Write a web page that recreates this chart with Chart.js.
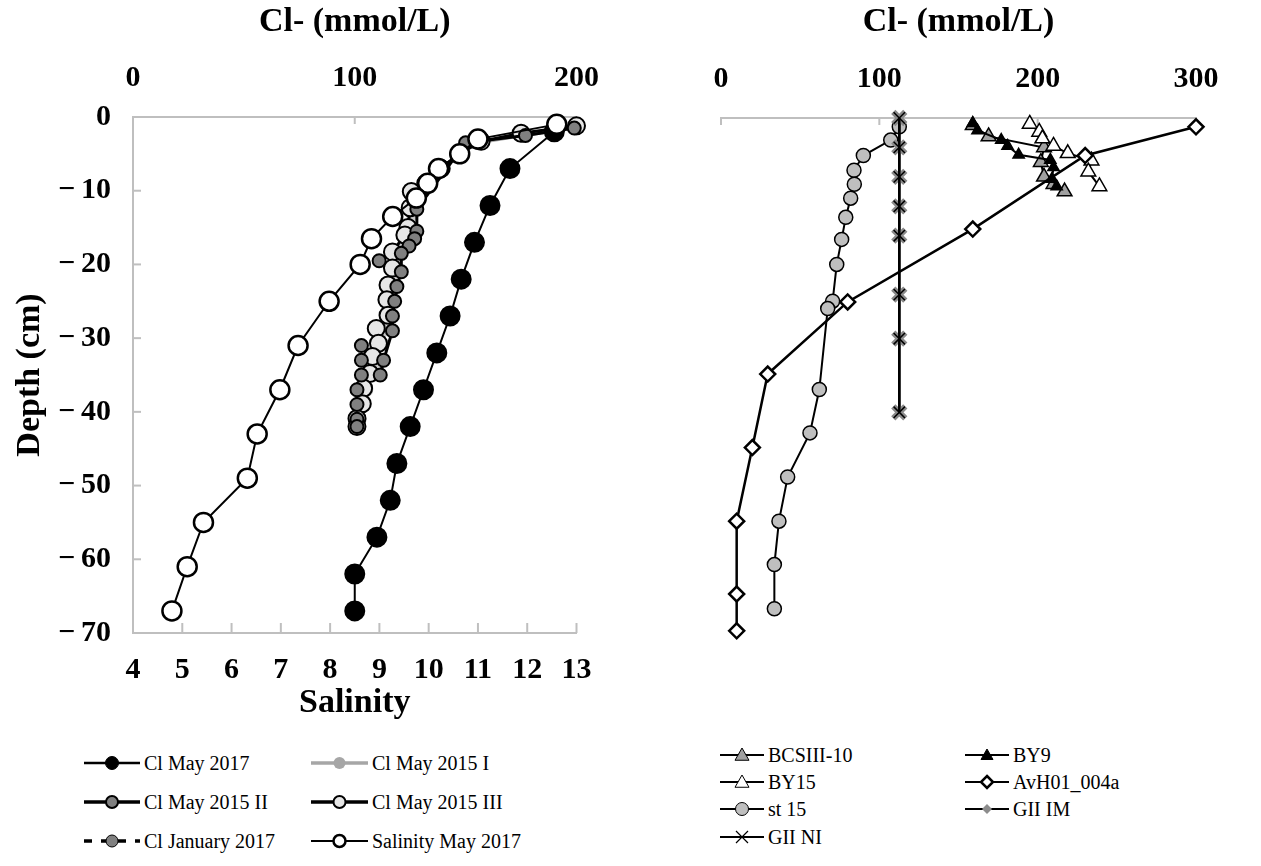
<!DOCTYPE html>
<html lang="en">
<head>
<meta charset="UTF-8">
<title>Cl- and salinity profiles</title>
<script src="https://cdn.jsdelivr.net/npm/chart.js"></script>
<style>
    body { margin: 0; background: #fff; width: 1261px; height: 866px; position: relative; overflow: hidden;
           font-family: "Liberation Serif", "Times New Roman", serif; }
    #graficoEsq { position: absolute; left: 0; top: 0; }
    #graficoDir { position: absolute; left: 620px; top: 0; }
    .item { position: absolute; display: flex; align-items: center; white-space: nowrap; font-size: 20px; color: #000; height: 24px; }
    .item svg { margin-right: 3px; }
    .aquece { position: absolute; left: -999px; top: 0; font: bold 28px "Liberation Serif"; }
</style>
</head>

<body>
    <span class="aquece">Cl- 0123456789</span>
    <canvas id="graficoEsq" width="620" height="720"></canvas>
    <canvas id="graficoDir" width="641" height="720"></canvas>
    <div id="legendas"></div>

<script>
    // ---- left panel: salinity (bottom axis) and Cl- (top axis) vs depth ----
    const salinityMin = 4, salinityMax = 13, salinityStep = 1;
    const clLeftMin = 0, clLeftMax = 200, clLeftStep = 100;
    const depthMin = -70, depthMax = 0, depthStep = 10;

    const depthClMay2017 = [-2, -7, -12, -17, -22, -27, -32, -37, -42, -47, -52, -57, -62, -67];
    const clMay2017 = [190, 170, 161, 154, 148, 143, 137, 131, 125, 119, 116, 110, 100, 100];

    const depthClMay2015I = [-1.5, -2.5, -3.5, -5, -7, -9, -11, -13, -15, -17, -19, -21, -23, -25, -27, -29, -31, -33, -35, -37, -39, -41, -42];
    const clMay2015I = [200, 176, 156, 147, 139, 133, 128, 126, 125, 123, 119, 118, 116, 115, 116, 112, 111, 110, 108, 105, 104, 102, 101];

    const depthClMay2015II = [-1.5, -2.5, -3.5, -12.5, -15.5, -16.5, -17.5, -18.5, -21, -23, -25, -27, -29, -33, -35];
    const clMay2015II = [199, 177, 150, 128, 128, 127, 124.5, 121, 121, 119, 118, 117, 117, 113, 111.5];

    const depthClMay2015III = [-1.2, -2.2, -3.3, -5, -7, -9, -10.1, -12.3, -15, -16, -18.3, -20.5, -22.8, -24.8, -26.9, -28.7, -30.7, -32.5, -34.8, -36.8, -38.9, -40.9, -42];
    const clMay2015III = [200, 175, 157, 147, 139, 132, 125.5, 125, 124, 122.6, 117, 117, 115, 114.5, 115, 109.7, 110.7, 108, 106.8, 104, 103.4, 101, 101];

    const depthClJan2017 = [-19.5, -31, -33, -35, -37, -39, -41, -42];
    const clJan2017 = [111, 103, 103, 103, 101, 101, 101, 101];

    const depthSalinityMay2017 = [-1, -3, -5, -7, -9, -11, -13.5, -16.5, -20, -25, -31, -37, -43, -49, -55, -61, -67];
    const salinityMay2017 = [12.6, 11.0, 10.63, 10.2, 9.98, 9.75, 9.27, 8.84, 8.61, 7.98, 7.35, 6.98, 6.52, 6.32, 5.43, 5.10, 4.79];

    // ---- right panel: Cl- vs depth for other cores ----
    const clRightMin = 0, clRightMax = 300, clRightStep = 100;

    const depthBCSIII10 = [-1, -2.5, -4, -6, -8, -9, -10];
    const clBCSIII10 = [159, 169, 204, 202, 204, 210, 217];

    const depthBY9 = [-0.7, -1.7, -3, -3.8, -5, -5.7, -6.7, -8.3, -9.3];
    const clBY9 = [159, 162, 177, 181, 188, 208, 210, 209, 212];

    const depthBY15 = [-0.8, -1.9, -2.8, -3.8, -4.8, -5.8, -7.3, -9.3];
    const clBY15 = [195, 201, 203, 210, 219, 234, 232, 239];

    const depthAvH01 = [-1.2, -5.1, -15.1, -25, -34.8, -44.8, -54.8, -64.7, -69.7];
    const clAvH01 = [300, 230, 159, 80, 29.5, 19.8, 9.9, 9.9, 9.9];

    const depthSt15 = [-1.2, -3, -5.1, -7.1, -9, -10.9, -13.5, -16.5, -19.9, -24.9, -25.9, -36.9, -42.8, -48.8, -54.8, -60.7, -66.7];
    const clSt15 = [112.6, 107.2, 89.9, 84, 84.2, 81.9, 78.8, 76.2, 73.1, 70.5, 67.4, 62.1, 56.2, 42.1, 36.6, 33.7, 33.7];

    const depthGII = [0, -4, -8, -12, -16, -24, -30, -40];
    const clGIIIM = [112.6, 112.6, 112.6, 112.6, 112.6, 112.6, 112.6, 112.6];
    const clGIINI = [112.6, 112.6, 112.6, 112.6, 112.6, 112.6, 112.6, 112.6];

    function pontos(xs, ys) {
        return xs.map(function (v, i) { return { x: v, y: ys[i] }; });
    }

    const corEixo = '#bfbfbf';
    const familia = "'Liberation Serif', 'Times New Roman', serif";
    const fonteTick = { family: familia, size: 30, weight: 'bold' };
    const fonteTitulo = { family: familia, size: 34, weight: 'bold', lineHeight: 1 };

    // negative numbers with a real minus sign, as in the original
    function rotulo(v) {
        return v < 0 ? '\u2212\u2009' + Math.abs(v) : String(v);
    }

    // tick marks drawn inside the plot area, like the original
    const ticksInternos = {
        id: 'ticksInternos',
        beforeDatasetsDraw(chart, args, opts) {
            const ctx = chart.ctx;
            ctx.save();
            ctx.strokeStyle = corEixo;
            ctx.lineWidth = 2;
            (opts.marcas || []).forEach(function (m) {
                const sc = chart.scales[m.id];
                sc.ticks.forEach(function (t) {
                    const p = sc.getPixelForValue(t.value);
                    ctx.beginPath();
                    if (m.lado === 'left') { ctx.moveTo(sc.right, p); ctx.lineTo(sc.right + m.len, p); }
                    if (m.lado === 'bottom') { ctx.moveTo(p, sc.top); ctx.lineTo(p, sc.top - m.len); }
                    if (m.lado === 'top') { ctx.moveTo(p, sc.bottom); ctx.lineTo(p, sc.bottom + m.len); }
                    ctx.stroke();
                });
            });
            ctx.restore();
        }
    };

    function eixo(extra) {
        return Object.assign({
            type: 'linear',
            grid: { display: false, drawTicks: false },
            border: { display: true, color: corEixo, width: 2 }
        }, extra);
    }

    function titulo(texto, pad) {
        return { display: true, text: texto, color: '#000', font: fonteTitulo, padding: pad };
    }

    const serieEsq = function (label, xs, ys, eixoX, estilo) {
        return Object.assign({
            label: label, data: pontos(xs, ys), xAxisID: eixoX, showLine: true,
            borderColor: '#000', borderWidth: 2, pointBorderColor: '#000', pointBorderWidth: 2,
            clip: false
        }, estilo);
    };

    const serieDir = function (label, xs, ys, estilo) {
        return Object.assign({
            label: label, data: pontos(xs, ys), showLine: true,
            borderColor: '#000', borderWidth: 2, pointBorderColor: '#000', pointBorderWidth: 1.5,
            clip: false
        }, estilo);
    };

    function graficoEsquerdo() {
        new Chart(document.getElementById('graficoEsq'), {
            type: 'scatter',
            data: {
                datasets: [
                    serieEsq('Salinity May 2017', salinityMay2017, depthSalinityMay2017, 'x',
                        { order: 0, pointRadius: 9.5, pointBackgroundColor: '#fff', pointBorderWidth: 2.5 }),
                    serieEsq('Cl May 2017', clMay2017, depthClMay2017, 'x2',
                        { order: 1, pointRadius: 9.5, pointBackgroundColor: '#000' }),
                    serieEsq('Cl January 2017', clJan2017, depthClJan2017, 'x2',
                        { order: 2, showLine: false, borderDash: [8, 8], borderWidth: 3, pointRadius: 6.5, pointBackgroundColor: '#808080', pointBorderWidth: 2 }),
                    serieEsq('Cl May 2015 II', clMay2015II, depthClMay2015II, 'x2',
                        { order: 3, borderWidth: 3, pointRadius: 6.5, pointBackgroundColor: '#808080', pointBorderWidth: 2 }),
                    serieEsq('Cl May 2015 III', clMay2015III, depthClMay2015III, 'x2',
                        { order: 4, borderWidth: 3, pointRadius: 8.5, pointBackgroundColor: '#e6e6e6', pointBorderWidth: 2 }),
                    serieEsq('Cl May 2015 I', clMay2015I, depthClMay2015I, 'x2',
                        { order: 5, borderColor: '#a6a6a6', borderWidth: 3, pointRadius: 7.5, pointBackgroundColor: '#c8c8c8', pointBorderColor: '#c8c8c8', pointBorderWidth: 0 })
                ]
            },
            options: {
                responsive: false,
                animation: false,
                devicePixelRatio: 1,
                layout: { padding: { left: 0, top: 0, right: 35, bottom: 0 } },
                plugins: {
                    legend: { display: false },
                    tooltip: { enabled: false },
                    ticksInternos: { marcas: [{ id: 'y', lado: 'left', len: 8 }, { id: 'x', lado: 'bottom', len: 10 }, { id: 'x2', lado: 'top', len: 7 }] }
                },
                scales: {
                    x: eixo({
                        position: 'bottom', min: salinityMin, max: salinityMax,
                        ticks: { stepSize: salinityStep, padding: 19, color: '#000', font: fonteTick },
                        title: titulo('Salinity', { top: 0, bottom: 0 }),
                        afterFit: function (s) { s.height = 87; }
                    }),
                    x2: eixo({
                        position: 'top', min: clLeftMin, max: clLeftMax,
                        ticks: { stepSize: clLeftStep, padding: 21, color: '#000', font: fonteTick },
                        title: titulo('Cl- (mmol/L)', { top: 5, bottom: 0 }),
                        afterFit: function (s) { s.height = 117; }
                    }),
                    y: eixo({
                        position: 'left', min: depthMin, max: depthMax,
                        ticks: { stepSize: depthStep, padding: 22, color: '#000', font: fonteTick, callback: rotulo },
                        title: titulo('Depth (cm)', { top: 13, bottom: 0 }),
                        afterFit: function (s) { s.width = 133; }
                    })
                }
            },
            plugins: [ticksInternos]
        });
    }

    function graficoDireito() {
        new Chart(document.getElementById('graficoDir'), {
            type: 'scatter',
            data: {
                datasets: [
                    serieDir('GII NI', clGIINI, depthGII,
                        { order: 0, borderWidth: 2.5, pointStyle: 'crossRot', pointRadius: 8, pointBorderWidth: 1.5 }),
                    serieDir('GII IM', clGIIIM, depthGII,
                        { order: 1, borderWidth: 2.5, pointStyle: 'crossRot', pointRadius: 8.5, pointBorderColor: '#8a8a8a', pointBorderWidth: 6 }),
                    serieDir('st 15', clSt15, depthSt15,
                        { order: 2, pointRadius: 7, pointBackgroundColor: '#bfbfbf' }),
                    serieDir('AvH01_004a', clAvH01, depthAvH01,
                        { order: 3, borderWidth: 2.5, pointStyle: 'rectRot', pointRadius: 7.5, pointBackgroundColor: '#fff', pointBorderWidth: 2.5 }),
                    serieDir('BY15', clBY15, depthBY15,
                        { order: 4, pointStyle: 'triangle', pointRadius: 8.5, pointBackgroundColor: '#fff' }),
                    serieDir('BY9', clBY9, depthBY9,
                        { order: 5, pointStyle: 'triangle', pointRadius: 6.5, pointBackgroundColor: '#000' }),
                    serieDir('BCSIII-10', clBCSIII10, depthBCSIII10,
                        { order: 6, pointStyle: 'triangle', pointRadius: 8.5, pointBackgroundColor: '#a0a0a0' })
                ]
            },
            options: {
                responsive: false,
                animation: false,
                devicePixelRatio: 1,
                layout: { padding: { left: 101, top: 0, right: 65, bottom: 87 } },
                plugins: {
                    legend: { display: false },
                    tooltip: { enabled: false },
                    ticksInternos: { marcas: [{ id: 'x', lado: 'top', len: 7 }] }
                },
                scales: {
                    x: eixo({
                        position: 'top', min: clRightMin, max: clRightMax,
                        ticks: { stepSize: clRightStep, padding: 21, color: '#000', font: fonteTick },
                        title: titulo('Cl- (mmol/L)', { top: 5, bottom: 0 }),
                        afterFit: function (s) { s.height = 118; }
                    }),
                    y: { type: 'linear', display: false, min: depthMin, max: depthMax }
                }
            },
            plugins: [ticksInternos]
        });
    }

    // ---- legends (HTML, styled like the original) ----
    function marcador(m, cx, cy) {
        if (m.forma === 'circulo') {
            return '<circle cx="' + cx + '" cy="' + cy + '" r="' + m.r + '" fill="' + m.fill + '" stroke="' + m.stroke + '" stroke-width="' + m.sw + '"/>';
        }
        if (m.forma === 'triangulo') {
            const r = m.r;
            return '<polygon points="' + cx + ',' + (cy - r) + ' ' + (cx + r) + ',' + (cy + r * 0.75) + ' ' + (cx - r) + ',' + (cy + r * 0.75) + '" fill="' + m.fill + '" stroke="' + m.stroke + '" stroke-width="' + m.sw + '"/>';
        }
        if (m.forma === 'losango') {
            const r = m.r;
            return '<polygon points="' + cx + ',' + (cy - r) + ' ' + (cx + r) + ',' + cy + ' ' + cx + ',' + (cy + r) + ' ' + (cx - r) + ',' + cy + '" fill="' + m.fill + '" stroke="' + m.stroke + '" stroke-width="' + m.sw + '"/>';
        }
        if (m.forma === 'xis') {
            const r = m.r;
            return '<path d="M' + (cx - r) + ' ' + (cy - r) + 'L' + (cx + r) + ' ' + (cy + r) + 'M' + (cx - r) + ' ' + (cy + r) + 'L' + (cx + r) + ' ' + (cy - r) + '" stroke="' + m.stroke + '" stroke-width="' + m.sw + '"/>';
        }
        return '';
    }

    function itemLegenda(it) {
        const w = it.w, h = 24, cy = 12;
        let svg = '<svg width="' + w + '" height="' + h + '">';
        svg += '<line x1="1" y1="' + cy + '" x2="' + (w - 1) + '" y2="' + cy + '" stroke="' + it.linha + '" stroke-width="' + it.lw + '"' +
            (it.dash ? ' stroke-dasharray="' + it.dash + '"' : '') + '/>';
        svg += marcador(it.m, w / 2, cy) + '</svg>';
        const div = document.createElement('div');
        div.className = 'item';
        div.style.left = it.x + 'px';
        div.style.top = (it.y - 12) + 'px';
        div.innerHTML = svg + '<span>' + it.label + '</span>';
        document.getElementById('legendas').appendChild(div);
    }

    const legendaEsq = [
        { label: 'Cl May 2017', x: 83, y: 763, w: 58, linha: '#000', lw: 2.5, m: { forma: 'circulo', r: 6.5, fill: '#000', stroke: '#000', sw: 1 } },
        { label: 'Cl May 2015 I', x: 310, y: 763, w: 59, linha: '#a6a6a6', lw: 3.5, m: { forma: 'circulo', r: 6, fill: '#a6a6a6', stroke: '#a6a6a6', sw: 0 } },
        { label: 'Cl May 2015 II', x: 83, y: 802, w: 58, linha: '#000', lw: 3.5, m: { forma: 'circulo', r: 6, fill: '#808080', stroke: '#000', sw: 2 } },
        { label: 'Cl May 2015 III', x: 310, y: 802, w: 59, linha: '#000', lw: 3.5, m: { forma: 'circulo', r: 6, fill: '#e6e6e6', stroke: '#000', sw: 2 } },
        { label: 'Cl January 2017', x: 83, y: 841, w: 58, linha: '#000', lw: 3.5, dash: '8 9', m: { forma: 'circulo', r: 6, fill: '#808080', stroke: '#000', sw: 1 } },
        { label: 'Salinity May 2017', x: 310, y: 841, w: 59, linha: '#000', lw: 2, m: { forma: 'circulo', r: 6, fill: '#fff', stroke: '#000', sw: 2.5 } }
    ];

    const legendaDir = [
        { label: 'BCSIII-10', x: 719, y: 755, w: 46, linha: '#000', lw: 2, m: { forma: 'triangulo', r: 7, fill: '#a0a0a0', stroke: '#000', sw: 1 } },
        { label: 'BY9', x: 964, y: 755, w: 46, linha: '#000', lw: 2, m: { forma: 'triangulo', r: 6, fill: '#000', stroke: '#000', sw: 1 } },
        { label: 'BY15', x: 719, y: 782, w: 46, linha: '#000', lw: 2, m: { forma: 'triangulo', r: 7, fill: '#fff', stroke: '#000', sw: 1 } },
        { label: 'AvH01_004a', x: 964, y: 782, w: 46, linha: '#000', lw: 2, m: { forma: 'losango', r: 6, fill: '#fff', stroke: '#000', sw: 2.5 } },
        { label: 'st 15', x: 719, y: 809, w: 46, linha: '#000', lw: 2, m: { forma: 'circulo', r: 6.5, fill: '#bfbfbf', stroke: '#000', sw: 1 } },
        { label: 'GII IM', x: 964, y: 809, w: 46, linha: '#000', lw: 2, m: { forma: 'losango', r: 5, fill: '#8c8c8c', stroke: '#8c8c8c', sw: 0 } },
        { label: 'GII NI', x: 719, y: 837, w: 46, linha: '#000', lw: 2, m: { forma: 'xis', r: 6, stroke: '#000', sw: 1.2 } }
    ];

    legendaEsq.forEach(itemLegenda);
    legendaDir.forEach(itemLegenda);

    function iniciar() {
        graficoEsquerdo();
        graficoDireito();
    }

    if (document.fonts && document.fonts.load) {
        document.fonts.load("bold 28px 'Liberation Serif'").then(iniciar, iniciar);
    } else {
        iniciar();
    }
</script>
</body>
</html>
